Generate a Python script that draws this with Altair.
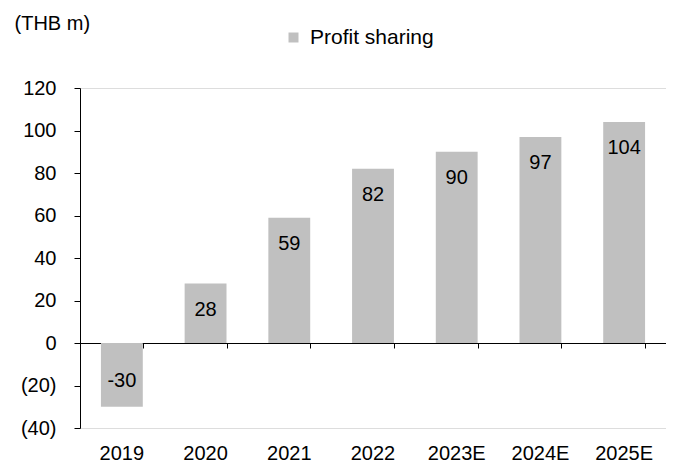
import altair as alt
import pandas as pd

categories = ["2019", "2020", "2021", "2022", "2023E", "2024E", "2025E"]
values = [-30, 28, 59, 82, 90, 97, 104]
series_name = "Profit sharing"

df = pd.DataFrame({"year": categories, "value": values, "series": [series_name] * len(categories)})

FONT = "Liberation Sans"
FS = 20

xscale = alt.Scale(domain=categories, paddingInner=0.5, paddingOuter=0.25)
yscale = alt.Scale(domain=[-40, 120], nice=False, zero=False)

yaxis = alt.Axis(
    values=[-40, -20, 0, 20, 40, 60, 80, 100, 120],
    labelExpr="datum.value < 0 ? '(' + abs(datum.value) + ')' : datum.label",
    grid=False, domain=True, domainColor="black", tickColor="black",
    tickSize=6, labelPadding=18, labelFontSize=FS, labelFont=FONT, labelColor="black",
    title="(THB m)", titleAngle=0, titleAlign="left", titleBaseline="middle",
    titleX=-66, titleY=-65, titleFont=FONT, titleFontSize=FS, titleFontWeight="normal",
    titleColor="black",
)

bars = alt.Chart(df).mark_bar(color="#c0c0c0").encode(
    x=alt.X("year:N", sort=categories, scale=xscale,
            axis=alt.Axis(orient="bottom", offset=-85, labels=False, title=None,
                          domain=True, domainColor="black", ticks=True, tickColor="black",
                          tickSize=5, tickBand="extent", grid=False)),
    y=alt.Y("value:Q", scale=yscale, axis=yaxis),
    color=alt.Color("series:N", scale=alt.Scale(range=["#c0c0c0"]),
                    legend=alt.Legend(orient="none", legendX=203, legendY=-61, title=None,
                                      symbolType="square", symbolSize=100, symbolStrokeWidth=0,
                                      labelFont=FONT, labelFontSize=21, labelColor="black",
                                      labelOffset=6)),
)

pos_text = alt.Chart(df).transform_filter("datum.value >= 0").transform_calculate(
    lab="toString(datum.value)"
).mark_text(
    baseline="middle", dy=26, font=FONT, fontSize=FS, color="black"
).encode(
    x=alt.X("year:N", sort=categories, scale=xscale,
            axis=alt.Axis(orient="bottom", offset=0, domain=False, ticks=False, tickSize=0,
                          labelPadding=15, labelAngle=0, labelFont=FONT, labelFontSize=FS,
                          labelColor="black", title=None, grid=False)),
    y=alt.Y("value:Q", scale=yscale),
    text=alt.Text("lab:N"),
)

neg_text = alt.Chart(df).transform_filter("datum.value < 0").transform_calculate(
    lab="toString(datum.value)"
).mark_text(
    baseline="middle", dy=-26, font=FONT, fontSize=FS, color="black"
).encode(
    x=alt.X("year:N", sort=categories, scale=xscale, axis=None),
    y=alt.Y("value:Q", scale=yscale),
    text=alt.Text("lab:N"),
)

chart = alt.layer(bars, pos_text, neg_text).resolve_axis(x="independent").properties(
    width=586, height=340,
    autosize=alt.AutoSizeParams(type="none"),
    padding={"left": 72, "top": 80, "right": 0, "bottom": 40},
).configure_view(stroke=None).configure_axis(
    domainColor="black", tickColor="black", domainOpacity=1, tickOpacity=1
).configure(background="white")

chart.save("out.html", embed_options={"renderer": "svg", "actions": False})
